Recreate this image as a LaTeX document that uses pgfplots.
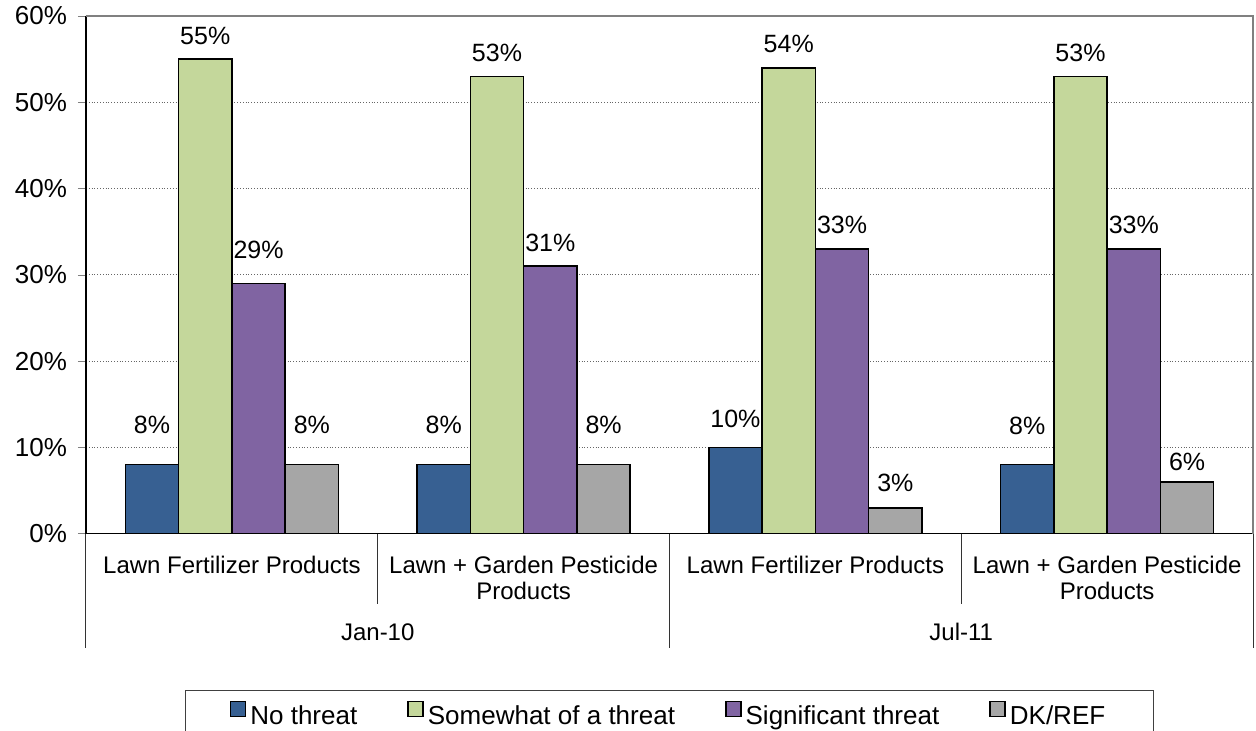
\documentclass[border=0pt]{standalone}
\usepackage{pgfplots}
\usepackage{pgfplotstable}
\pgfplotsset{compat=1.18}
\usepackage{fontspec}
\setmainfont{Liberation Sans}
\definecolor{cblue}{HTML}{376092}
\definecolor{cgreen}{HTML}{C4D79B}
\definecolor{cpurple}{HTML}{8064A2}
\definecolor{cgrey}{HTML}{A6A6A6}
% off = gap (pt) between bar top and label baseline
\pgfplotstableread{
x y off
0 8 15.5
1 8 15.5
2 10 10
3 8 15
}\tblNo
\pgfplotstableread{
x y off
0 55 7.5
1 53 7.5
2 54 7.5
3 53 7.5
}\tblSome
\pgfplotstableread{
x y off
0 29 12.5
1 31 7.5
2 33 7.5
3 33 7.5
}\tblSig
\pgfplotstableread{
x y off
0 8 15.5
1 8 15.5
2 3 8
3 6 5.5
}\tblDK
\begin{document}
\begin{tikzpicture}
\begin{axis}[
  name=ax,
  scale only axis, width=583.5pt, height=258.85pt,
  xmin=-0.5, xmax=3.5, ymin=0, ymax=60,
  ybar=0pt, bar width=26.65pt,
  axis lines=left, axis line style={-, black, line width=0.6pt},
  clip=false,
  ytick={0,10,...,60},
  /pgf/number format/assume math mode=true,
  yticklabel={\pgfmathprintnumber{\tick}\%},
  yticklabel style={font=\fontsize{13}{15}\selectfont, xshift=-2pt},
  tick align=outside, major tick length=4pt,
  ymajorgrids, grid style={densely dotted, black!60, line width=0.5pt},
  xtick={0,1,2,3},
  xticklabels={Lawn Fertilizer Products, {Lawn + Garden Pesticide\\Products}, Lawn Fertilizer Products, {Lawn + Garden Pesticide\\Products}},
  xticklabel style={align=center, font=\fontsize{12}{13}\selectfont, yshift=-3.5pt},
  x tick style={draw=none},
  every axis plot/.append style={draw=black, line width=0.75pt},
  visualization depends on={\thisrow{off} \as \labeloff},
  nodes near coords={\pgfmathprintnumber{\pgfplotspointmeta}\%},
  nodes near coords style={font=\fontsize{12.5}{14}\selectfont, anchor=base, black, yshift=\labeloff pt},
  legend image code/.code={\draw[#1, draw=black, line width=0.8pt] (0pt,0pt) rectangle (7.5pt,7.5pt);},
  legend columns=4,
  legend style={at={(0.5,-0.3019)}, anchor=north, draw=black!75, line width=0.6pt,
    font=\fontsize{13}{15}\selectfont, inner xsep=22pt, inner ysep=5pt,
    /tikz/every even column/.append style={column sep=23pt}},
]
\addplot[fill=cblue] table[x=x,y=y] {\tblNo};
\addplot[fill=cgreen] table[x=x,y=y] {\tblSome};
\addplot[fill=cpurple] table[x=x,y=y] {\tblSig};
\addplot[fill=cgrey] table[x=x,y=y] {\tblDK};
\legend{No threat, Somewhat of a threat, Significant threat, DK/REF}
\draw[gray, line width=1pt] (rel axis cs:0,1) -- (rel axis cs:1,1) -- (rel axis cs:1,0);
\draw[black!80, line width=0.5pt] (axis cs:-0.5,0) -- ([yshift=-57.15pt]axis cs:-0.5,0);
\draw[black!80, line width=0.5pt] (axis cs:1.5,0) -- ([yshift=-57.15pt]axis cs:1.5,0);
\draw[black!80, line width=0.5pt] (axis cs:3.5,0) -- ([yshift=-57.15pt]axis cs:3.5,0);
\draw[black!80, line width=0.5pt] (axis cs:0.5,0) -- ([yshift=-35.15pt]axis cs:0.5,0);
\draw[black!80, line width=0.5pt] (axis cs:2.5,0) -- ([yshift=-35.15pt]axis cs:2.5,0);
\node[anchor=base, font=\fontsize{12}{13.5}\selectfont] at ([yshift=-53.5pt]axis cs:0.5,0) {Jan-10};
\node[anchor=base, font=\fontsize{12}{13.5}\selectfont] at ([yshift=-53.5pt]axis cs:2.5,0) {Jul-11};
\end{axis}
\pgfresetboundingbox
\path[use as bounding box] ([xshift=-43pt,yshift=-98.65pt]ax.south west) rectangle ([xshift=1.5pt,yshift=8pt]ax.north east);
\end{tikzpicture}
\end{document}
